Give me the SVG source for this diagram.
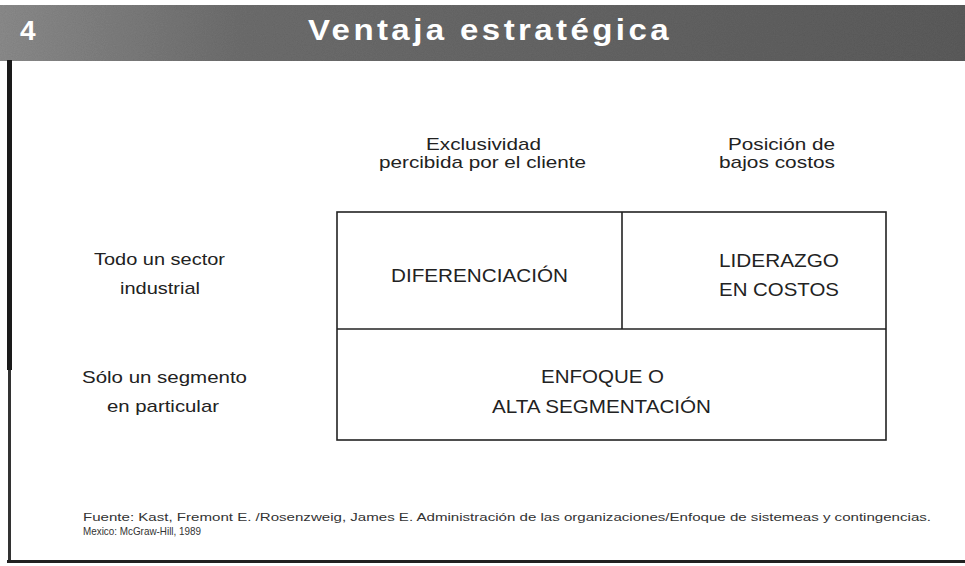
<svg xmlns="http://www.w3.org/2000/svg" width="965" height="566" viewBox="0 0 965 566">
<defs>
<linearGradient id="band" x1="0" y1="0" x2="1" y2="0">
<stop offset="0" stop-color="#8c8c8c"/>
<stop offset="0.25" stop-color="#6e6e6e"/>
<stop offset="1" stop-color="#5c5c5c"/>
</linearGradient>
<filter id="noise" x="0" y="0" width="1" height="1">
<feTurbulence type="fractalNoise" baseFrequency="0.9" numOctaves="2" seed="3" result="n"/>
<feColorMatrix in="n" type="matrix" values="0 0 0 0 0.5  0 0 0 0 0.5  0 0 0 0 0.5  0 0 0 0.35 0" result="g"/>
<feComposite in="g" in2="SourceGraphic" operator="in" result="gm"/>
<feBlend in="gm" in2="SourceGraphic" mode="multiply"/>
</filter>
</defs>
<style>
.lbl{font-family:"Liberation Sans",Arial,sans-serif;font-size:17px;fill:#222}
.cell{font-family:"Liberation Sans",Arial,sans-serif;font-size:19px;fill:#222}
.foot{font-family:"Liberation Sans",Arial,sans-serif;font-size:11.5px;fill:#333}
.grid{fill:none;stroke:#222;stroke-width:1.6}
</style>
<rect width="965" height="566" fill="#ffffff"/>
<g id="header">
<rect x="0" y="5" width="965" height="56" fill="url(#band)" filter="url(#noise)"/>
<text x="20" y="40" font-family="'Liberation Sans',Arial,sans-serif" font-weight="bold" font-size="28" fill="#ffffff">4</text>
<text x="308" y="40" font-family="'Liberation Sans',Arial,sans-serif" font-weight="bold" font-size="29" letter-spacing="3" fill="#ffffff" textLength="364" lengthAdjust="spacingAndGlyphs">Ventaja estratégica</text>
</g>
<g id="frame">
<rect x="7" y="60" width="5" height="310" fill="#1a1a1a"/>
<rect x="8" y="370" width="3" height="193" fill="#333"/>
<rect x="7" y="560" width="958" height="3" fill="#222"/>
</g>
<g id="col-headers">
<text class="lbl" x="426" y="150" textLength="115" lengthAdjust="spacingAndGlyphs">Exclusividad</text>
<text class="lbl" x="379" y="168" textLength="207" lengthAdjust="spacingAndGlyphs">percibida por el cliente</text>
<text class="lbl" x="728" y="150" textLength="107" lengthAdjust="spacingAndGlyphs">Posición de</text>
<text class="lbl" x="719" y="168" textLength="116" lengthAdjust="spacingAndGlyphs">bajos costos</text>
</g>
<g id="row-headers">
<text class="lbl" x="94" y="265" textLength="131" lengthAdjust="spacingAndGlyphs">Todo un sector</text>
<text class="lbl" x="120" y="294" textLength="80" lengthAdjust="spacingAndGlyphs">industrial</text>
<text class="lbl" x="82" y="383" textLength="165" lengthAdjust="spacingAndGlyphs">Sólo un segmento</text>
<text class="lbl" x="107" y="412" textLength="112" lengthAdjust="spacingAndGlyphs">en particular</text>
</g>
<g id="connectors">
<rect class="grid" x="337" y="212" width="549" height="228"/>
<line class="grid" x1="337" y1="329" x2="886" y2="329"/>
<line class="grid" x1="622" y1="212" x2="622" y2="329"/>
</g>
<g id="diferenciacion">
<text class="cell" x="391" y="282" textLength="177" lengthAdjust="spacingAndGlyphs">DIFERENCIACIÓN</text>
</g>
<g id="liderazgo">
<text class="cell" x="719" y="267" textLength="120" lengthAdjust="spacingAndGlyphs">LIDERAZGO</text>
<text class="cell" x="719" y="296" textLength="120" lengthAdjust="spacingAndGlyphs">EN COSTOS</text>
</g>
<g id="enfoque">
<text class="cell" x="541" y="383" textLength="123" lengthAdjust="spacingAndGlyphs">ENFOQUE O</text>
<text class="cell" x="492" y="413" textLength="219" lengthAdjust="spacingAndGlyphs">ALTA SEGMENTACIÓN</text>
</g>
<g id="footer">
<text class="foot" x="83" y="521" textLength="848" lengthAdjust="spacingAndGlyphs">Fuente: Kast, Fremont E. /Rosenzweig, James E. Administración de las organizaciones/Enfoque de sistemeas y contingencias.</text>
<text class="foot" x="83" y="535" textLength="118" lengthAdjust="spacingAndGlyphs">Mexico: McGraw-Hill, 1989</text>
</g>
</svg>
